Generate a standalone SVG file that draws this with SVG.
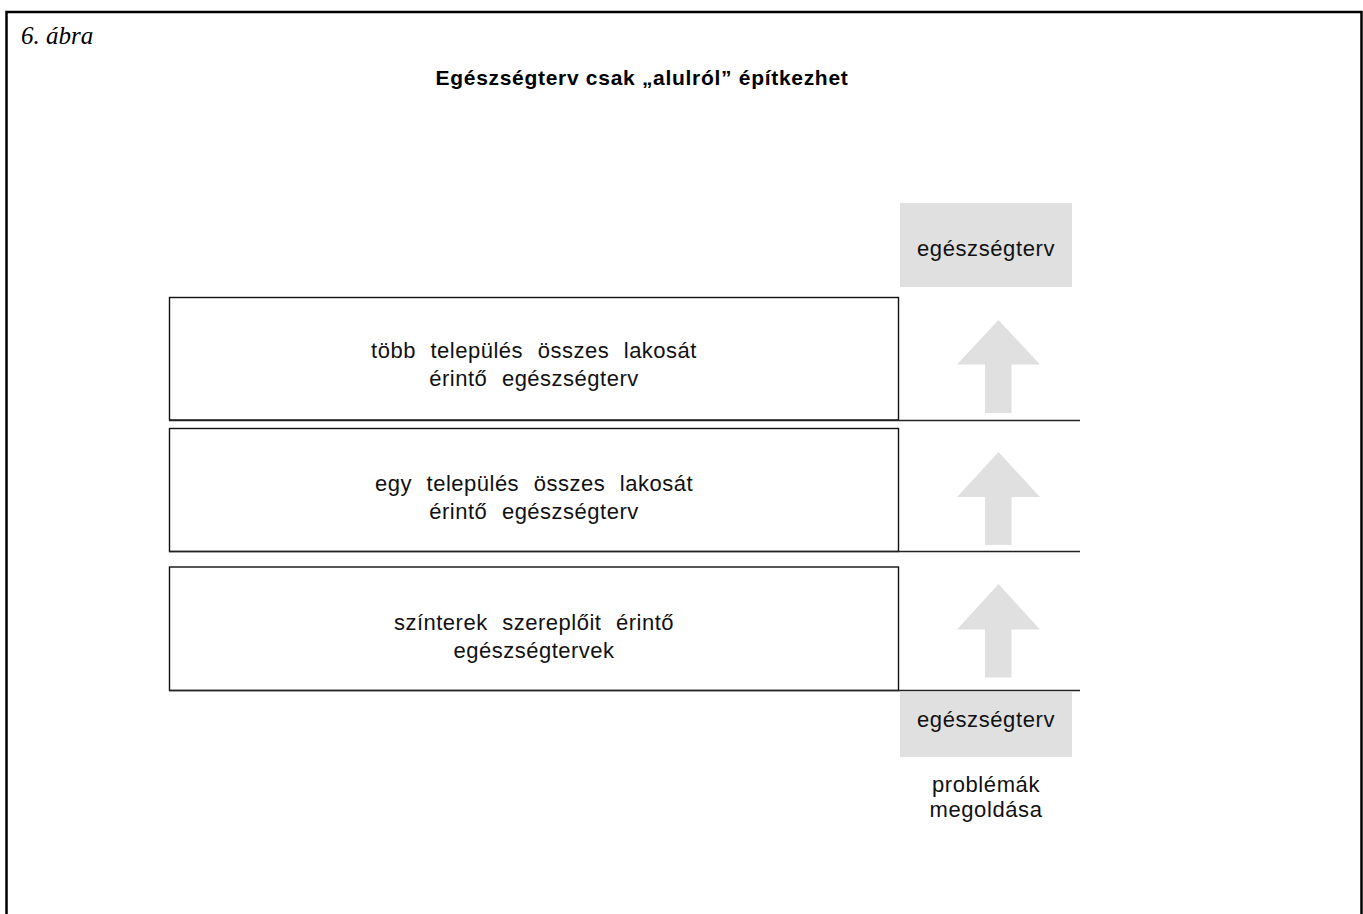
<svg xmlns="http://www.w3.org/2000/svg" width="1363" height="914" viewBox="0 0 1363 914">
<style>
.t{font-family:"Liberation Sans",Arial,sans-serif;font-size:22px;fill:#111;letter-spacing:0.5px;word-spacing:8px;text-anchor:middle}
.g{font-family:"Liberation Sans",Arial,sans-serif;font-size:22px;fill:#111;letter-spacing:0.6px;text-anchor:middle}
.box{fill:#fff;stroke:#111;stroke-width:1.4}
.gray{fill:#e0e0e0}
.line{stroke:#222;stroke-width:1.6}
</style>
<rect width="1363" height="914" fill="#fff"/>
<path d="M6.5,914 V12 H1361.5 V914" fill="none" stroke="#000" stroke-width="2.5"/>
<text x="21" y="44" font-family="Liberation Serif,serif" font-style="italic" font-size="25" fill="#000">6. ábra</text>
<text x="642" y="85" font-family="Liberation Sans,Arial,sans-serif" font-weight="bold" font-size="21" letter-spacing="0.7" text-anchor="middle" fill="#000">Egészségterv csak „alulról” építkezhet</text>
<g id="top-plan">
<rect class="gray" x="900" y="203" width="172" height="84"/>
<text class="g" x="986" y="256">egészségterv</text>
</g>
<g id="box1">
<rect class="box" x="169.5" y="297.5" width="729" height="122.5"/>
<text class="t" x="534" y="358">több település összes lakosát</text>
<text class="t" x="534" y="386">érintő egészségterv</text>
</g>
<g id="box2">
<rect class="box" x="169.5" y="428.5" width="729" height="123"/>
<text class="t" x="534" y="491">egy település összes lakosát</text>
<text class="t" x="534" y="519">érintő egészségterv</text>
</g>
<g id="box3">
<rect class="box" x="169.5" y="567" width="729" height="123.5"/>
<text class="t" x="534" y="630">színterek szereplőit érintő</text>
<text class="t" x="534" y="658">egészségtervek</text>
</g>
<g id="bottom-plan">
<rect class="gray" x="900" y="692" width="172" height="65"/>
<text class="g" x="986" y="727">egészségterv</text>
<text class="g" x="986" y="792">problémák</text>
<text class="g" x="986" y="817">megoldása</text>
</g>
<g id="connectors">
<line class="line" x1="169" y1="420.5" x2="1080" y2="420.5"/>
<line class="line" x1="169" y1="551.5" x2="1080" y2="551.5"/>
<line class="line" x1="169" y1="690.5" x2="1080" y2="690.5"/>
<polygon class="gray" points="998.5,320 1040,364.5 1011.5,364.5 1011.5,413 985,413 985,364.5 957,364.5"/>
<polygon class="gray" points="998.5,452 1040,497 1011.5,497 1011.5,545 985,545 985,497 957,497"/>
<polygon class="gray" points="998.5,584 1040,629.5 1011.5,629.5 1011.5,677.5 985,677.5 985,629.5 957,629.5"/>
</g>
</svg>
